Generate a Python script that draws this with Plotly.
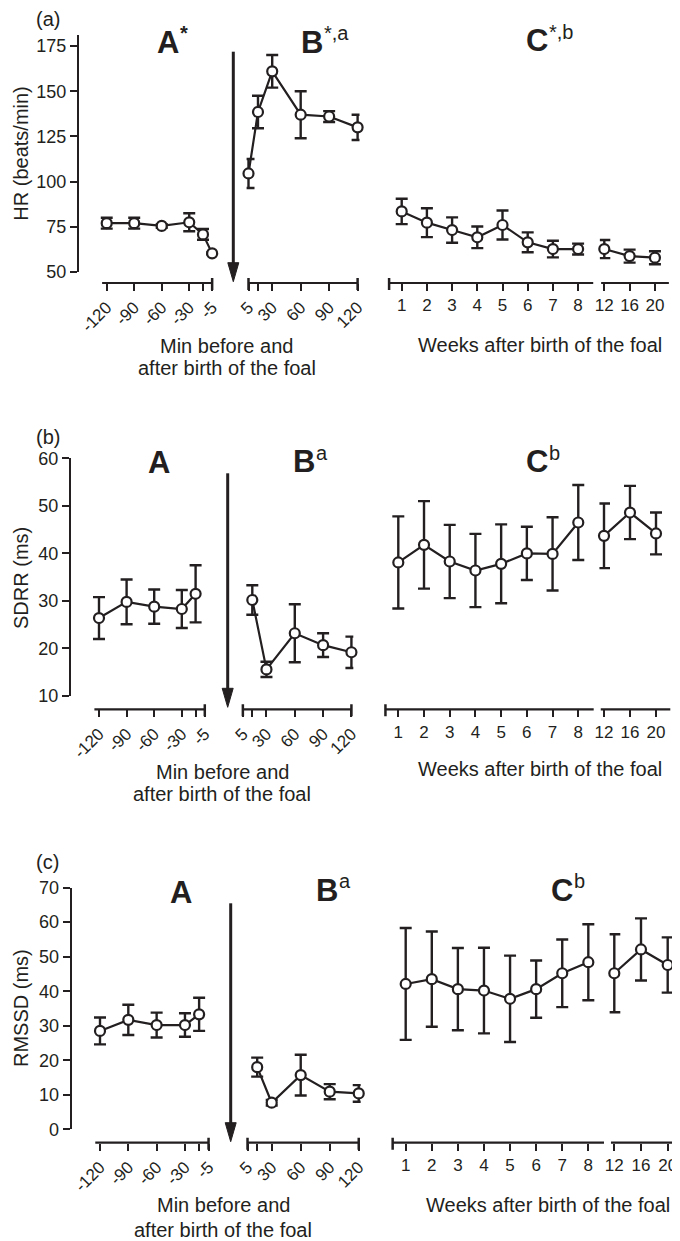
import plotly.graph_objects as go

W_REF, H_REF = 680, 1241
OFF = 8                      # page body margin of the browser
W, H = W_REF - OFF, H_REF - OFF
INK = '#231f20'
FONT = 'Arial, Liberation Sans, Helvetica, sans-serif'

# ---------------- data ----------------
min_before_a = [-120, -90, -60, -30, -15, -5]
min_before_bc = [-120, -90, -60, -30, -15]
min_after_a = [5, 15, 30, 60, 90, 120]
min_after_bc = [15, 30, 60, 90, 120]
weeks_early = [1, 2, 3, 4, 5, 6, 7, 8]
weeks_late = [12, 16, 20]

hr_A = [77, 77, 75.5, 77.5, 70.8, 60.3]
hr_A_err = [3, 3, 1, 5, 3, 0.5]
hr_B = [104.5, 138.5, 161, 137, 136, 130]
hr_B_err = [8, 9, 9, 13, 3, 7]
hr_C1 = [83.5, 77.3, 73.2, 69.2, 76, 66.4, 62.7, 62.7]
hr_C1_err = [7, 8, 7, 6, 8, 5.5, 4.6, 3]
hr_C2 = [62.7, 58.8, 57.9]
hr_C2_err = [5, 3.6, 3.6]

sd_A = [26.4, 29.8, 28.8, 28.3, 31.5]
sd_A_err = [4.4, 4.7, 3.6, 4, 6]
sd_B = [30.2, 15.6, 23.2, 20.7, 19.2]
sd_B_err = [3.1, 1.6, 6.1, 2.5, 3.3]
sd_C1 = [38.1, 41.8, 38.3, 36.4, 37.8, 40.0, 39.9, 46.5]
sd_C1_err = [9.7, 9.2, 7.7, 7.7, 8.3, 5.6, 7.7, 7.9]
sd_C2 = [43.7, 48.6, 44.2]
sd_C2_err = [6.8, 5.6, 4.4]

rm_A = [28.5, 31.7, 30.2, 30.2, 33.3]
rm_A_err = [3.9, 4.4, 3.6, 3.4, 4.8]
rm_B = [18, 7.7, 15.7, 10.9, 10.4]
rm_B_err = [2.75, 0.8, 5.9, 2.2, 2.4]
rm_C1 = [42.1, 43.5, 40.6, 40.2, 37.8, 40.6, 45.2, 48.4]
rm_C1_err = [16.2, 13.8, 11.9, 12.4, 12.5, 8.3, 9.8, 11]
rm_C2 = [45.2, 52.1, 47.6]
rm_C2_err = [11.3, 9, 8]

a_ticks_x = [-120, -90, -60, -30, -5]
a_ticks_t = ['-120', '-90', '-60', '-30', '-5']
a_minor_x = [-15]
b_ticks_x = [5, 30, 60, 90, 120]
b_ticks_t = ['5', '30', '60', '90', '120']
b_minor_x = [15]

# ---------------- layout config (reference pixels) ----------------
SEG = {
    'A': dict(line=(-125, -5), rng=(-127, -3), tv=a_ticks_x, tt=a_ticks_t, minor=a_minor_x, caps=[-5], angle=-45),
    'B': dict(line=(5, 120), rng=(3, 122), tv=b_ticks_x, tt=b_ticks_t, minor=b_minor_x, caps=[5, 120], angle=-45),
    'C1': dict(line=(0.5, 8.6), rng=(0.3, 8.8), tv=weeks_early, tt=[str(w) for w in weeks_early], minor=None,
               caps=[0.5], angle=0),
    'C2': dict(line=(11.5, 22.2), rng=(11.3, 22.4), tv=weeks_late, tt=[str(w) for w in weeks_late], minor=None,
               caps=[], angle=0),
}

PANELS = [
    dict(label='(a)', ytitle='HR (beats/min)', yaxis_px=78, yrange=(50, 181), yref=(50, 272, 1.808),
         yticks=[50, 75, 100, 125, 150, 175], axis_py=283,
         seg={'A': (-120, 106.7, 0.917), 'B': (5, 248.5, 0.9487), 'C1': (1, 401.7, 25.2), 'C2': (12, 604.3, 6.33)},
         data={'A': (min_before_a, hr_A, hr_A_err), 'B': (min_after_a, hr_B, hr_B_err),
               'C1': (weeks_early, hr_C1, hr_C1_err), 'C2': (weeks_late, hr_C2, hr_C2_err)},
         arrow=(233.3, 51.7, 281.7),
         titles=[('A', '*', 155, 42), ('B', '*,a', 299, 42), ('C', '*,b', 524, 41)],
         label_xy=(34, 19), ytitle_xy=(20.7, 154),
         min_xy=(226.7, 346, 368), weeks_xy=(540, 345)),
    dict(label='(b)', ytitle='SDRR (ms)', yaxis_px=70, yrange=(10, 60), yref=(10, 696, 4.753),
         yticks=[10, 20, 30, 40, 50, 60], axis_py=709.3,
         seg={'A': (-120, 99, 0.92), 'B': (15, 252.3, 0.944), 'C1': (1, 398.3, 25.71), 'C2': (12, 604, 6.5)},
         data={'A': (min_before_bc, sd_A, sd_A_err), 'B': (min_after_bc, sd_B, sd_B_err),
               'C1': (weeks_early, sd_C1, sd_C1_err), 'C2': (weeks_late, sd_C2, sd_C2_err)},
         arrow=(227.7, 473.3, 707.3),
         titles=[('A', '', 146, 463), ('B', 'a', 291, 462), ('C', 'b', 524, 462)],
         label_xy=(34, 437), ytitle_xy=(21.7, 578.3),
         min_xy=(222, 771.7, 794), weeks_xy=(539.7, 769.3)),
    dict(label='(c)', ytitle='RMSSD (ms)', yaxis_px=70.7, yrange=(0, 70), yref=(0, 1129.3, 3.452),
         yticks=[0, 10, 20, 30, 40, 50, 60, 70], axis_py=1142.7,
         seg={'A': (-120, 100, 0.944), 'B': (30, 271.7, 0.967), 'C1': (1, 405.7, 26.09), 'C2': (12, 614.3, 6.675)},
         data={'A': (min_before_bc, rm_A, rm_A_err), 'B': (min_after_bc, rm_B, rm_B_err),
               'C1': (weeks_early, rm_C1, rm_C1_err), 'C2': (weeks_late, rm_C2, rm_C2_err)},
         arrow=(230.7, 903.3, 1141.7),
         titles=[('A', '', 167.5, 892), ('B', 'a', 314, 890), ('C', 'b', 548.5, 890)],
         label_xy=(34, 862), ytitle_xy=(21.7, 1008.3),
         min_xy=(223.3, 1205, 1230), weeks_xy=(548.3, 1205)),
]


def PX(x):
    return (x - OFF) / W


def PY(y):
    return 1 - (y - OFF) / H


def note(text, x, y, size, xanchor='center', yanchor='middle', angle=0, weight='normal'):
    return dict(text=text, x=PX(x), y=PY(y), xref='paper', yref='paper', textangle=angle,
                xanchor=xanchor, yanchor=yanchor, showarrow=False,
                font=dict(size=size, color=INK, family=FONT, weight=weight))


fig = go.Figure()
layout = dict(width=W, height=H, margin=dict(l=0, r=0, t=0, b=0, pad=0, autoexpand=False),
              paper_bgcolor='white', plot_bgcolor='white', showlegend=False, template='none',
              font=dict(family=FONT, color=INK, size=17))
shapes, annotations = [], []
xn = 0
for pi, P in enumerate(PANELS):
    yname = 'yaxis' if pi == 0 else f'yaxis{pi + 1}'
    yid = 'y' if pi == 0 else f'y{pi + 1}'
    v0, p0, k = P['yref']
    y_bot = p0 - (P['yrange'][0] - v0) * k
    y_top = p0 - (P['yrange'][1] - v0) * k
    layout[yname] = dict(domain=[PY(y_bot), PY(y_top)], range=list(P['yrange']), anchor='free',
                         position=PX(P['yaxis_px']), showline=True, linewidth=2.2, linecolor=INK,
                         ticks='outside', ticklen=7, tickwidth=2.2, tickcolor=INK,
                         tickmode='array', tickvals=P['yticks'], ticktext=[str(t) for t in P['yticks']],
                         showgrid=False, zeroline=False, automargin=False, tickfont=dict(size=18, color=INK))
    for s in ['A', 'B', 'C1', 'C2']:
        xn += 1
        xname = 'xaxis' if xn == 1 else f'xaxis{xn}'
        xid = 'x' if xn == 1 else f'x{xn}'
        S = SEG[s]
        sv0, sp0, sk = P['seg'][s]

        def pxof(v):
            return sp0 + (v - sv0) * sk

        r0, r1 = S['rng']
        l0, l1 = S['line']
        if pxof(r1) > W_REF:
            r1 = sv0 + (W_REF - sp0) / sk
        if pxof(l1) > W_REF:
            l1 = sv0 + (W_REF - sp0) / sk
        axd = dict(domain=[PX(pxof(r0)), PX(pxof(r1))], range=[r0, r1], anchor='free',
                   position=PY(P['axis_py']), showline=False, ticks='outside', ticklen=7,
                   tickwidth=2.2, tickcolor=INK, tickmode='array', tickvals=S['tv'], ticktext=S['tt'],
                   tickangle=S['angle'], showgrid=False, zeroline=False, automargin=False,
                   tickfont=dict(size=17, color=INK))
        if S['minor']:
            axd['minor'] = dict(tickmode='array', tickvals=S['minor'], ticks='outside', ticklen=7,
                                tickwidth=2.2, tickcolor=INK, showgrid=False)
        layout[xname] = axd
        shapes.append(dict(type='line', xref=xid, yref='paper', x0=l0, x1=l1,
                           y0=PY(P['axis_py']), y1=PY(P['axis_py']), line=dict(color=INK, width=2.2)))
        for c in S['caps']:
            shapes.append(dict(type='line', xref=xid, yref='paper', x0=c, x1=c,
                               y0=PY(P['axis_py'] - 5), y1=PY(P['axis_py'] + 7), line=dict(color=INK, width=2.5)))
        xs, ys, es = P['data'][s]
        fig.add_trace(go.Scatter(x=xs, y=ys, xaxis=xid, yaxis=yid, mode='lines+markers', cliponaxis=False,
                                 line=dict(color=INK, width=2.2),
                                 marker=dict(symbol='circle', size=10, color='white', line=dict(color=INK, width=2.2)),
                                 error_y=dict(type='data', array=es, thickness=2.4, width=6, color=INK)))
    # arrow marking birth of the foal
    axp, ay0, ay1 = P['arrow']
    shapes.append(dict(type='line', xref='paper', yref='paper', x0=PX(axp), x1=PX(axp),
                       y0=PY(ay0), y1=PY(ay1 - 16), line=dict(color=INK, width=3)))
    shapes.append(dict(type='path', xref='paper', yref='paper',
                       path=f'M {PX(axp - 5.5)},{PY(ay1 - 19)} L {PX(axp + 5.5)},{PY(ay1 - 19)} L {PX(axp)},{PY(ay1)} Z',
                       fillcolor=INK, line=dict(color=INK, width=1)))
    # texts
    lx, ly = P['label_xy']
    annotations.append(note(P['label'], lx, ly, 20, xanchor='left'))
    tx, ty = P['ytitle_xy']
    annotations.append(note(P['ytitle'], tx, ty, 20, angle=-90))
    for big, sup, x0, y0 in P['titles']:
        annotations.append(note(big, x0, y0, 31, xanchor='left', weight='bold'))
        if sup:
            annotations.append(note(sup, x0 + 23, y0 - 9, 20, xanchor='left',
                                    weight='bold' if sup == '*' else 'normal'))
    mx, my1, my2 = P['min_xy']
    annotations.append(note('Min before and', mx, my1, 20))
    annotations.append(note('after birth of the foal', mx, my2, 20))
    wx, wy = P['weeks_xy']
    annotations.append(note('Weeks after birth of the foal', wx, wy, 20))

layout['shapes'] = shapes
layout['annotations'] = annotations
fig.update_layout(**layout)
fig.write_html('out.html')
